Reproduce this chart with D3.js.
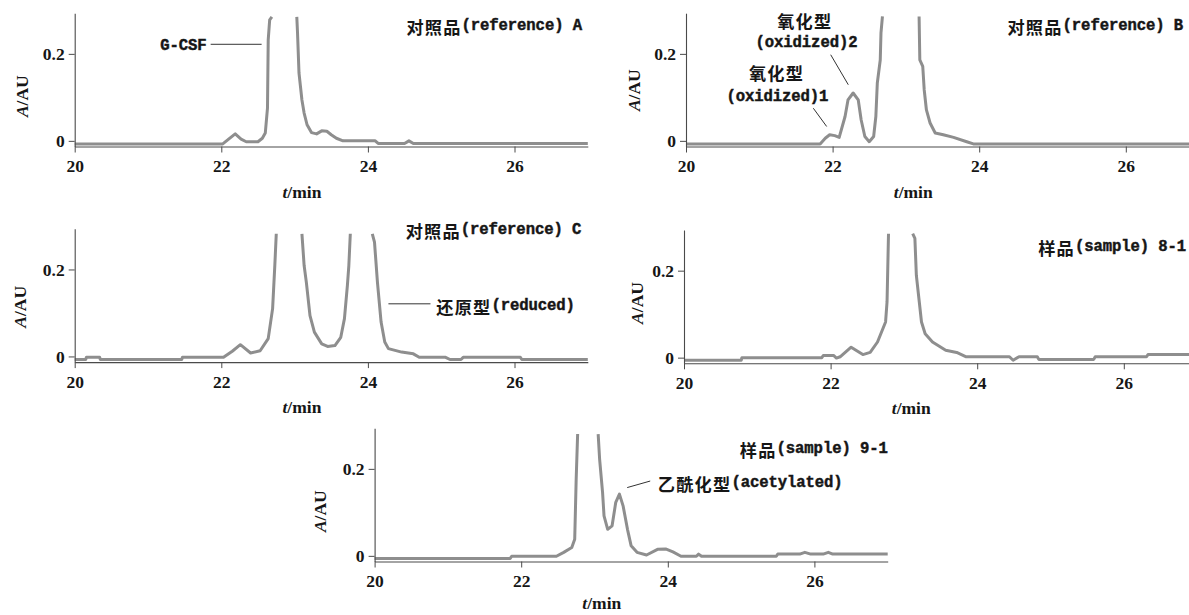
<!DOCTYPE html>
<html><head><meta charset="utf-8">
<script src="https://cdn.jsdelivr.net/npm/d3@7"></script>
<style>body{margin:0;background:#fff}svg{display:block}</style>
</head><body>
<svg id="c" width="1189" height="615"></svg>
<script>
// ---------------- data ----------------
const xTicks = [20, 22, 24, 26];
const yTicks = [0, 0.2];
const yTickLabels = ["0", "0.2"];
const xLabelParts = ["t", "/min"];   // first part italic
const yLabelParts = ["A", "/AU"];    // first part italic
const panelTitles = ["对照品(reference) A", "对照品(reference) B", "对照品(reference) C", "样品(sample) 8-1", "样品(sample) 9-1"];

// retention time (min) and absorbance (AU); null = trace leaves the plotted range (peak off scale)
const tA = [20, 22.02, 22.10, 22.19, 22.27, 22.34, 22.50, 22.56, 22.60, 22.63, 22.64, 22.66, 22.69, 22.85, 23.03, 23.04, 23.06, 23.08, 23.10, 23.13, 23.17, 23.23, 23.30, 23.37, 23.44, 23.50, 23.57, 23.66, 24.10, 24.14, 24.50, 24.56, 24.62, 27];
const vA = [-0.007, -0.007, 0.004, 0.016, 0.004, -0.002, -0.002, 0.006, 0.018, 0.075, 0.232, 0.278, 0.285, null, 0.285, 0.248, 0.156, 0.125, 0.094, 0.064, 0.037, 0.019, 0.016, 0.023, 0.022, 0.014, 0.006, 0.0, 0.0, -0.006, -0.006, 0.0, -0.006, -0.006];

const tB = [20, 21.83, 21.90, 21.96, 22.03, 22.09, 22.17, 22.21, 22.28, 22.35, 22.39, 22.44, 22.50, 22.56, 22.59, 22.61, 22.65, 22.66, 22.68, 22.9, 23.18, 23.19, 23.23, 23.25, 23.28, 23.33, 23.40, 23.51, 23.65, 23.83, 23.92, 27.9];
const vB = [-0.007, -0.007, 0.006, 0.014, 0.012, 0.008, 0.056, 0.094, 0.110, 0.094, 0.048, 0.010, -0.002, 0.010, 0.056, 0.133, 0.186, 0.248, 0.286, null, 0.286, 0.186, 0.171, 0.117, 0.071, 0.041, 0.018, 0.014, 0.008, -0.002, -0.007, -0.007];

const tC = [20, 20.15, 20.16, 20.34, 20.35, 21.46, 21.47, 22.03, 22.15, 22.26, 22.40, 22.53, 22.64, 22.70, 22.73, 22.75, 22.9, 23.10, 23.13, 23.16, 23.21, 23.27, 23.37, 23.45, 23.55, 23.63, 23.68, 23.72, 23.74, 23.76, 23.9, 24.06, 24.09, 24.13, 24.18, 24.23, 24.28, 24.46, 24.62, 24.70, 25.06, 25.12, 25.27, 25.30, 26.08, 26.10, 27];
const vC = [-0.007, -0.007, -0.002, -0.002, -0.007, -0.007, -0.002, -0.002, 0.012, 0.027, 0.008, 0.013, 0.041, 0.110, 0.209, 0.282, null, 0.282, 0.209, 0.171, 0.094, 0.056, 0.029, 0.023, 0.025, 0.044, 0.087, 0.163, 0.209, 0.282, null, 0.282, 0.263, 0.171, 0.079, 0.033, 0.018, 0.010, 0.006, -0.002, -0.002, -0.007, -0.007, -0.002, -0.002, -0.007, -0.007];

const tD = [20, 20.78, 20.79, 21.88, 21.90, 22.04, 22.08, 22.13, 22.28, 22.44, 22.54, 22.64, 22.75, 22.77, 22.79, 22.95, 23.12, 23.15, 23.17, 23.21, 23.24, 23.29, 23.39, 23.57, 23.72, 23.85, 24.44, 24.49, 24.57, 24.82, 24.84, 25.59, 25.61, 26.31, 26.33, 27.9];
const vD = [-0.006, -0.006, 0.0, 0.0, 0.005, 0.005, -0.001, 0.002, 0.024, 0.007, 0.012, 0.036, 0.082, 0.128, 0.285, null, 0.285, 0.274, 0.189, 0.128, 0.082, 0.055, 0.036, 0.017, 0.012, 0.002, 0.002, -0.006, 0.002, 0.002, -0.004, -0.004, 0.002, 0.002, 0.007, 0.007];

const tE = [20, 21.85, 21.87, 22.48, 22.58, 22.69, 22.73, 22.75, 22.77, 22.9, 23.05, 23.07, 23.11, 23.13, 23.18, 23.24, 23.29, 23.34, 23.39, 23.45, 23.50, 23.58, 23.71, 23.86, 23.97, 24.07, 24.18, 24.39, 24.42, 24.46, 25.48, 25.50, 25.80, 25.87, 25.95, 26.12, 26.19, 26.25, 27];
const vE = [-0.006, -0.006, -0.001, -0.001, 0.008, 0.019, 0.038, 0.176, 0.280, null, 0.280, 0.222, 0.146, 0.092, 0.061, 0.069, 0.123, 0.142, 0.115, 0.061, 0.023, 0.008, 0.002, 0.015, 0.016, 0.009, -0.001, -0.001, 0.004, -0.001, -0.001, 0.004, 0.004, 0.008, 0.004, 0.004, 0.008, 0.004, 0.004];

// annotation texts
const annoTexts = {
  gcsf: "G-CSF",
  ox2a: "氧化型", ox2b: "(oxidized)2",
  ox1a: "氧化型", ox1b: "(oxidized)1",
  reduced: "还原型(reduced)",
  acetyl: "乙酰化型(acetylated)"
};

// ---------------- layout (positions / styles) ----------------
const PX_PER_MIN = 73.3, PLOT_H = 133.3;
const Y_MIN = -0.013, Y_MAX = 0.2935;
const panels = [
  {t: tA, v: vA, title: panelTitles[0], left: 74.7, top: 13.2, xMax: 27, titleAt: [26.92, 0.263], yLab: [-53, 83], xLabOff: 45,
   labels: [{k: "gcsf", at: [21.80, 0.217], anchor: "end"}],
   leaders: [[[21.855, 0.222], [22.55, 0.222]]]},
  {t: tB, v: vB, title: panelTitles[1], left: 686, top: 13.2, xMax: 27.9, titleAt: [26.78, 0.263], yLab: [-52, 77], xLabOff: 45,
   labels: [{k: "ox2a", at: [21.62, 0.277], anchor: "middle"}, {k: "ox2b", at: [21.644, 0.225], anchor: "middle"},
            {k: "ox1a", at: [21.235, 0.159], anchor: "middle"}, {k: "ox1b", at: [21.248, 0.101], anchor: "middle"}],
   leaders: [[[21.737, 0.075], [21.919, 0.033]], [[21.974, 0.198], [22.214, 0.129]]]},
  {t: tC, v: vC, title: panelTitles[2], left: 74.7, top: 228.8, xMax: 27, titleAt: [26.91, 0.29], yLab: [-54.5, 78], xLabOff: 45,
   labels: [{k: "reduced", at: [24.933, 0.117], anchor: "start"}],
   leaders: [[[24.28, 0.121], [24.854, 0.121]]]},
  {t: tD, v: vD, title: panelTitles[3], left: 684, top: 230, xMax: 27.9, titleAt: [26.85, 0.254], yLab: [-47.5, 73], xLabOff: 45,
   labels: [], leaders: []},
  {t: tE, v: vE, title: panelTitles[4], left: 374.6, top: 428.2, xMax: 27, titleAt: [27.0, 0.246], yLab: [-54.5, 83], xLabOff: 41,
   labels: [{k: "acetyl", at: [23.864, 0.1685], anchor: "start"}],
   leaders: [[[23.446, 0.157], [23.76, 0.172]]]}
];

const CJK_FONT = "'Noto Sans CJK SC', sans-serif";
const LAT_FONT = "'Liberation Mono', monospace";
const NUM_FONT = "'Liberation Serif', serif";
const TRACE = "#8e8e8e", AXIS = "#4a4a4a", INK = "#161616";

const svg = d3.select("#c");

function richText(sel, str) {
  const runs = str.match(/[\u3400-\u9fff]+|[^\u3400-\u9fff]+/g);
  runs.forEach(r => {
    const cjk = /[\u3400-\u9fff]/.test(r);
    const ts = sel.append("tspan").text(r)
      .attr("font-family", cjk ? CJK_FONT : LAT_FONT)
      .attr("font-size", cjk ? 17.2 : 15.6)
      .attr("font-weight", 700)
      .attr("letter-spacing", cjk ? 1.2 : -0.1);
    if (!cjk) ts.attr("stroke", INK).attr("stroke-width", 0.45);
  });
  return sel;
}

panels.forEach(p => {
  const x = d3.scaleLinear().domain([20, p.xMax]).range([p.left, p.left + (p.xMax - 20) * PX_PER_MIN]);
  const y = d3.scaleLinear().domain([Y_MIN, Y_MAX]).range([p.top + PLOT_H, p.top]);
  const g = svg.append("g");

  // trace
  const pts = p.t.map((t, i) => ({t, v: p.v[i]}));
  const line = d3.line().defined(d => d.v !== null).x(d => x(d.t)).y(d => y(d.v));
  g.append("path").datum(pts).attr("d", line)
    .attr("fill", "none").attr("stroke", TRACE).attr("stroke-width", 3)
    .attr("stroke-linejoin", "round");

  // axes
  const xa = g.append("g").attr("transform", `translate(0,${y(Y_MIN)})`)
    .call(d3.axisBottom(x).tickValues(xTicks).tickSize(6).tickSizeOuter(0).tickPadding(7).tickFormat(d3.format("d")));
  const ya = g.append("g").attr("transform", `translate(${x(20)},0)`)
    .call(d3.axisLeft(y).tickValues(yTicks).tickSize(6).tickSizeOuter(0).tickPadding(4)
      .tickFormat((d, i) => yTickLabels[i]));
  [xa, ya].forEach(a => {
    a.select(".domain").attr("stroke", AXIS).attr("stroke-width", 1.1);
    a.selectAll(".tick line").attr("stroke", AXIS).attr("stroke-width", 1);
    a.selectAll(".tick text").attr("font-family", NUM_FONT).attr("font-size", 17.5)
      .attr("font-weight", 700).attr("fill", INK);
  });

  // axis titles
  const xl = g.append("text").attr("x", x(23.1)).attr("y", y(Y_MIN) + p.xLabOff)
    .attr("text-anchor", "middle").attr("dominant-baseline", "central")
    .attr("font-family", NUM_FONT).attr("font-size", 17.5).attr("font-weight", 700).attr("fill", INK);
  xl.append("tspan").text(xLabelParts[0]).attr("font-style", "italic");
  xl.append("tspan").text(xLabelParts[1]);

  const yx = x(20) + p.yLab[0], yy = p.top + p.yLab[1];
  const yl = g.append("text").attr("transform", `translate(${yx},${yy}) rotate(-90)`)
    .attr("text-anchor", "middle").attr("dominant-baseline", "central")
    .attr("font-family", NUM_FONT).attr("font-size", 17.5).attr("font-weight", 700).attr("fill", INK);
  yl.append("tspan").text(yLabelParts[0]).attr("font-style", "italic");
  yl.append("tspan").text(yLabelParts[1]);

  // panel title
  richText(g.append("text").attr("x", x(p.titleAt[0])).attr("y", y(p.titleAt[1]))
    .attr("text-anchor", "end").attr("dominant-baseline", "central").attr("fill", INK)
    .style("white-space", "pre"), p.title);

  // annotations
  p.labels.forEach(l => {
    richText(g.append("text").attr("x", x(l.at[0])).attr("y", y(l.at[1]))
      .attr("text-anchor", l.anchor).attr("dominant-baseline", "central").attr("fill", INK)
      .style("white-space", "pre"), annoTexts[l.k]);
  });
  p.leaders.forEach(ld => {
    g.append("line").attr("x1", x(ld[0][0])).attr("y1", y(ld[0][1]))
      .attr("x2", x(ld[1][0])).attr("y2", y(ld[1][1]))
      .attr("stroke", "#333").attr("stroke-width", 1);
  });
});
</script>
</body></html>
